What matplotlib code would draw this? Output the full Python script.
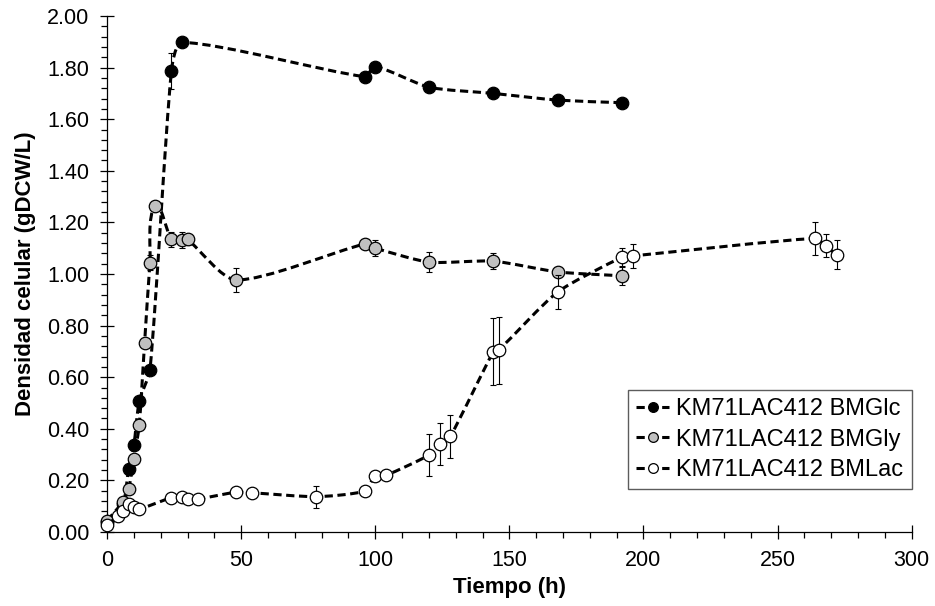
import numpy as np
import matplotlib
matplotlib.use("Agg")
import matplotlib.pyplot as plt
from matplotlib.path import Path
from matplotlib.patches import PathPatch
from matplotlib.lines import Line2D
from matplotlib.ticker import MultipleLocator, FormatStrFormatter

plt.rcParams['font.family'] = ['Liberation Sans', 'DejaVu Sans']

# ---- data ----
t_glc = [0, 6, 8, 10, 12, 16, 24, 28, 96, 100, 120, 144, 168, 192]
y_glc = [0.04, 0.11, 0.243, 0.337, 0.508, 0.628, 1.788, 1.898, 1.765, 1.804, 1.724, 1.700, 1.674, 1.664]
e_glc = [0.0, 0.0, 0.01, 0.01, 0.01, 0.01, 0.07, 0.01, 0.01, 0.01, 0.01, 0.01, 0.01, 0.01]

t_gly = [0, 6, 8, 10, 12, 14, 16, 18, 24, 28, 30, 48, 96, 100, 120, 144, 168, 192]
y_gly = [0.044, 0.118, 0.165, 0.282, 0.415, 0.734, 1.044, 1.264, 1.134, 1.132, 1.134, 0.977,
         1.116, 1.100, 1.046, 1.050, 1.008, 0.993]
e_gly = [0.0, 0.0, 0.01, 0.01, 0.01, 0.01, 0.03, 0.01, 0.03, 0.03, 0.02, 0.045,
         0.02, 0.03, 0.04, 0.03, 0.02, 0.034]

t_lac = [0, 4, 6, 8, 10, 12, 24, 28, 30, 34, 48, 54, 78, 96, 100, 104, 120, 124, 128,
         144, 146, 168, 192, 196, 264, 268, 272]
y_lac = [0.027, 0.062, 0.083, 0.108, 0.096, 0.089, 0.133, 0.137, 0.127, 0.128, 0.154, 0.152,
         0.137, 0.159, 0.217, 0.220, 0.298, 0.341, 0.371, 0.698, 0.705, 0.930, 1.065, 1.070,
         1.138, 1.109, 1.074]
e_lac = [0.0, 0.0, 0.0, 0.0, 0.0, 0.0, 0.01, 0.01, 0.01, 0.02, 0.01, 0.01,
         0.043, 0.015, 0.02, 0.01, 0.08, 0.08, 0.083, 0.13, 0.13, 0.065, 0.034, 0.047,
         0.065, 0.045, 0.056]

series = [
    ("KM71LAC412 BMGlc", t_glc, y_glc, e_glc, "black"),
    ("KM71LAC412 BMGly", t_gly, y_gly, e_gly, "#c0c0c0"),
    ("KM71LAC412 BMLac", t_lac, y_lac, e_lac, "white"),
]

xticks = [0, 50, 100, 150, 200, 250, 300]
yticks = [0.0, 0.2, 0.4, 0.6, 0.8, 1.0, 1.2, 1.4, 1.6, 1.8, 2.0]

LW = 2.2
DASH = (2.7, 1.5)
MS = 9.0


def smooth_path(ax, x, y, k=0.22):
    # smoothed curve built in display space, then mapped back to data space
    tr = ax.transData
    p = tr.transform(np.column_stack([x, y]).astype(float))
    n = len(p)
    d = []
    for i in range(n):
        a = p[i - 1] if i > 0 else p[i]
        b = p[i + 1] if i < n - 1 else p[i]
        v = b - a
        nv = np.hypot(*v)
        d.append(v / nv if nv > 0 else np.zeros(2))
    verts = [p[0]]
    codes = [Path.MOVETO]
    for i in range(n - 1):
        L = np.hypot(*(p[i + 1] - p[i]))
        c1 = p[i] + d[i] * L * k
        c2 = p[i + 1] - d[i + 1] * L * k
        verts += [c1, c2, p[i + 1]]
        codes += [Path.CURVE4] * 3
    verts = tr.inverted().transform(np.array(verts))
    return Path(verts, codes)


fig = plt.figure(figsize=(9.35, 6.06), dpi=100)
ax = fig.add_axes([0.1145, 0.1221, 0.8605, 0.8515])
ax.set_xlim(0, 300)
ax.set_ylim(0, 2.0)

handles = []
for z, (lab, t, y, e, fc) in enumerate(series):
    patch = PathPatch(smooth_path(ax, t, y), facecolor='none', edgecolor='black',
                      lw=LW, linestyle=(0, DASH), zorder=2 + z * 3, capstyle='butt')
    ax.add_patch(patch)
    ax.errorbar(t, y, yerr=e, fmt='none', ecolor='black', elinewidth=0.8,
                capsize=2.2, capthick=0.8, zorder=3 + z * 3)
    ax.plot(t, y, linestyle='none', marker='o', markersize=MS, markerfacecolor=fc,
            markeredgecolor='black', markeredgewidth=0.9, zorder=4 + z * 3,
            clip_on=False)
    handles.append(Line2D([], [], color='black', lw=LW, linestyle=(0, DASH),
                          marker='o', markersize=7, markerfacecolor=fc,
                          markeredgecolor='black', markeredgewidth=0.9, label=lab))

ax.set_xticks(xticks)
ax.set_yticks(yticks)
ax.xaxis.set_minor_locator(MultipleLocator(10))
ax.yaxis.set_minor_locator(MultipleLocator(0.04))
ax.yaxis.set_major_formatter(FormatStrFormatter('%.2f'))

for s in ['top', 'right']:
    ax.spines[s].set_visible(False)
for s in ['left', 'bottom']:
    ax.spines[s].set_color('black')
    ax.spines[s].set_linewidth(0.9)

ax.tick_params(which='major', direction='inout', length=10, width=0.9,
               labelsize=15.5, pad=8, colors='black')
ax.tick_params(which='minor', direction='out', length=4.5, width=0.9, colors='black')

ax.set_xlabel('Tiempo (h)', fontsize=16, fontweight='bold', labelpad=4)
ax.set_ylabel('Densidad celular (gDCW/L)', fontsize=16, fontweight='bold', labelpad=8)

leg = ax.legend(handles=handles, loc='lower right', bbox_to_anchor=(1.0, 0.083),
                fontsize=17, frameon=True, fancybox=False, handlelength=1.4,
                handletextpad=0.3, labelspacing=0.35, borderpad=0.35,
                borderaxespad=0.0)
leg.get_frame().set_edgecolor('#333333')
leg.get_frame().set_linewidth(1.0)

fig.savefig('out.png', dpi=100, facecolor='white')
